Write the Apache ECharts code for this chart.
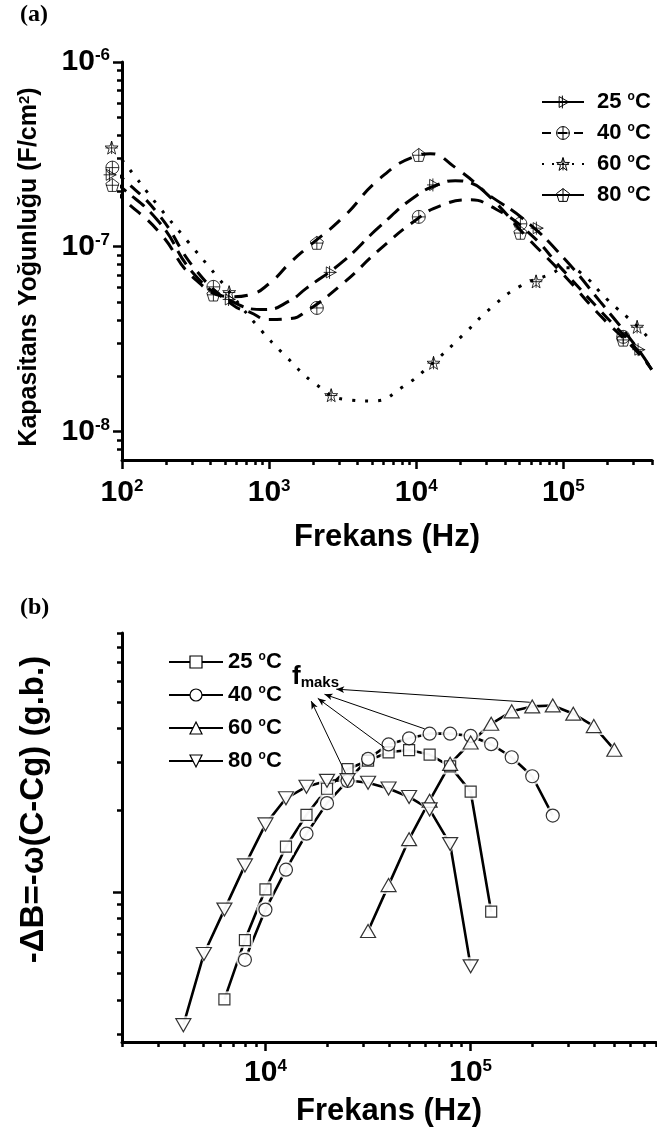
<!DOCTYPE html>
<html><head><meta charset="utf-8">
<script src="https://cdn.jsdelivr.net/npm/echarts@6/dist/echarts.min.js"></script>
<style>html,body{margin:0;padding:0;background:#fff}#c{width:657px;height:1128px}</style>
</head><body><div id="c"></div>
<script>
// ---------- (a) capacitance density: fitted curves ----------
const cap25Freq = [87,100,178,316,562,940,1390,1778,3162,5623,10000,14550,18400,23280,31620,56230,100000,177800,316200,398100];
const cap25Val  = [2.245e-7,2.085e-7,1.365e-7,6.97e-8,5.04e-8,4.565e-8,5.11e-8,5.93e-8,8.30e-8,1.283e-7,1.888e-7,2.19e-7,2.275e-7,2.22e-7,1.888e-7,1.365e-7,8.72e-8,5.04e-8,2.84e-8,2.16e-8];
const cap40Freq = [87,100,178,316,562,743,1000,1390,1778,3162,5623,10000,14550,23280,31620,56230,100000,177800,316200,398100];
const cap40Val  = [2.54e-7,2.36e-7,1.49e-7,7.51e-8,4.86e-8,4.41e-8,4.03e-8,4.08e-8,4.455e-8,6.31e-8,9.63e-8,1.40e-7,1.665e-7,1.795e-7,1.665e-7,1.22e-7,7.42e-8,4.51e-8,2.77e-8,2.16e-8];
const cap60Freq = [87,100,176,281,443,828,1324,2089,3289,5096,8166,13060,20560,32360,50250,80370,104800,130700,199100,318300,397300];
const cap60Val  = [3.34e-7,2.95e-7,1.665e-7,1.064e-7,6.89e-8,3.74e-8,2.51e-8,1.795e-8,1.49e-8,1.462e-8,1.75e-8,2.36e-8,3.30e-8,4.68e-8,6.08e-8,7.06e-8,7.70e-8,7.24e-8,5.17e-8,3.70e-8,3.07e-8];
const cap80Freq = [87,100,178,316,562,743,1000,1390,1778,3162,5623,10000,12450,17780,31620,56230,100000,177800,316200,398100];
const cap80Val  = [2.085e-7,1.84e-7,1.205e-7,6.63e-8,5.36e-8,5.5e-8,6.31e-8,8.19e-8,9.75e-8,1.435e-7,2.33e-7,3.10e-7,3.19e-7,2.74e-7,1.86e-7,1.13e-7,7.06e-8,4.24e-8,2.71e-8,2.16e-8];
// (a) measured markers
const mk25Freq = [83,535,2600,13100,66200,325000];
const mk25Val  = [2.45e-7,5.18e-8,7.26e-8,2.16e-7,1.26e-7,2.77e-8];
const mk40Freq = [86,418,2110,10400,51000,255000];
const mk40Val  = [2.68e-7,6.06e-8,4.66e-8,1.45e-7,1.33e-7,3.25e-8];
const mk60Freq = [85,535,2640,13100,65200,317000];
const mk60Val  = [3.44e-7,5.67e-8,1.57e-8,2.35e-8,6.49e-8,3.68e-8];
const mk80Freq = [86,418,2110,10400,51000,255000];
const mk80Val  = [2.16e-7,5.51e-8,1.05e-7,3.14e-7,1.19e-7,3.14e-8];
const topXMajor = [100,1000,10000,100000];
const topXMinor = [200,300,400,500,600,700,800,900,2000,3000,4000,5000,6000,7000,8000,9000,20000,30000,40000,50000,60000,70000,80000,90000,200000,300000,400000];
const topYMajor = [1e-8,1e-7,1e-6];
const topYMinor = [8e-9,9e-9,2e-8,3e-8,4e-8,5e-8,6e-8,7e-8,8e-8,9e-8,2e-7,3e-7,4e-7,5e-7,6e-7,7e-7,8e-7,9e-7];

// ---------- (b) -dB = -w(C-Cg) ----------
const b25Freq = [6310,7943,10000,12589,15849,19953,25119,31623,39811,50119,63096,79433,100000,125893];
const b25Val  = [0.402,0.665,1.023,1.468,1.925,2.401,2.834,3.05,3.27,3.333,3.208,2.902,2.342,0.846];
const b40Freq = [7943,10000,12589,15849,19953,25119,31623,39811,50119,63096,79433,100000,125893,158489,199526,251189];
const b40Val  = [0.5625,0.861,1.208,1.640,2.125,2.567,3.092,3.496,3.684,3.831,3.831,3.758,3.504,3.136,2.669,1.912];
const b60Freq = [31623,39811,50119,63096,79433,100000,125893,158489,199526,251189,316228,398107,501187];
const b60Val  = [0.718,1.060,1.565,2.169,2.966,3.554,4.165,4.630,4.828,4.868,4.539,4.086,3.344];
const b80Freq = [3981,5012,6310,7943,10000,12589,15849,19953,25119,31623,39811,50119,63096,79433,100000];
const b80Val  = [0.323,0.591,0.861,1.253,1.774,2.214,2.442,2.567,2.582,2.525,2.407,2.239,2.015,1.501,0.532];
const botXMajor = [10000,100000];
const botXMinor = [2000,3000,4000,5000,6000,7000,8000,9000,20000,30000,40000,50000,60000,70000,80000,90000,200000,300000,400000,500000,600000,700000,800000];
const botYMajor = [1];
const botYMinor = [0.3,0.4,0.5,0.6,0.7,0.8,0.9,2,3,4,5,6,7,8,9];
// f_maks arrows: from peak marker to label
const fmaxFrom = [[194100,5.0],[59700,3.99],[38000,3.41],[24550,2.74]];
const fmaxTo   = [[22130,5.59],[19400,5.35],[17990,5.17],[16710,5.05]];

const FONT = "'Liberation Sans Narrow','Arial Narrow','Liberation Sans',Arial,sans-serif";
function B(size, extra){ return Object.assign({fontSize:size,fontWeight:'bold',fontFamily:FONT,color:'#000'}, extra||{}); }
const zip = (a,b)=>a.map((v,i)=>[v,b[i]]);
const powRich = { b: B(30), s: B(17,{verticalAlign:'top'}) };
const powFmt = v => '{b|10}{s|' + Math.round(Math.log10(v)) + '}';

const SYM_TRI  = 'path://M0,10 L20,10 M9,0 L9,20 M4,1.5 L19,10 L4,18.5 Z';
const SYM_CIRC = 'path://M10,0 A10,10 0 1,1 9.99,0 Z M10,0 L10,20 M0,10 L20,10';
const SYM_STAR = 'path://M10,1 L12.35,7.76 L19.51,7.91 L13.8,12.24 L15.88,19.09 L10,15 L4.12,19.09 L6.2,12.24 L0.49,7.91 L7.65,7.76 Z M10,1 L10,19 M1,10.5 L19,10.5';
const SYM_PENT = 'path://M10,0.5 L19.51,7.41 L15.88,18.59 L4.12,18.59 L0.49,7.41 Z M10,0.5 L10,18.59 M0.49,10 L19.51,10';
const SYM_TUP  = 'path://M10,0 L20,17 L0,17 Z';
const SYM_TDN  = 'path://M0,0 L20,0 L10,17 Z';

const hollow = {color:'rgba(0,0,0,0)', borderColor:'#000', borderWidth:1};
const white  = {color:'#fff', borderColor:'#000', borderWidth:1.2};

const topDefs = [
  {n:'a25', cf:cap25Freq, cv:cap25Val, mf:mk25Freq, mv:mk25Val, sym:SYM_TRI,  dash:[16,8]},
  {n:'a40', cf:cap40Freq, cv:cap40Val, mf:mk40Freq, mv:mk40Val, sym:SYM_CIRC, dash:[13,9]},
  {n:'a60', cf:cap60Freq, cv:cap60Val, mf:mk60Freq, mv:mk60Val, sym:SYM_STAR, dash:[3,10]},
  {n:'a80', cf:cap80Freq, cv:cap80Val, mf:mk80Freq, mv:mk80Val, sym:SYM_PENT, dash:[14,10]}
];
const botDefs = [
  {n:'b25', f:b25Freq, v:b25Val, sym:'rect', size:[11,11], halo:[16,16]},
  {n:'b40', f:b40Freq, v:b40Val, sym:'circle', size:[13,13], halo:[18,18]},
  {n:'b60', f:b60Freq, v:b60Val, sym:SYM_TUP, size:[15,13], halo:[21,18]},
  {n:'b80', f:b80Freq, v:b80Val, sym:SYM_TDN, size:[15,13], halo:[21,18]}
];

const series = [];
topDefs.forEach(d=>{
  series.push({type:'line', name:d.n, xAxisIndex:0, yAxisIndex:0, data:zip(d.cf,d.cv), smooth:0.5,
    showSymbol:false, symbol:d.sym, symbolSize:13, itemStyle:hollow,
    lineStyle:{color:'#000', width:3, type:d.dash, cap:'butt'}, silent:true});
  series.push({type:'scatter', name:d.n, xAxisIndex:0, yAxisIndex:0, data:zip(d.mf,d.mv), clip:false,
    symbol:d.sym, symbolSize:13, itemStyle:hollow, z:3, silent:true});
});
botDefs.forEach((d,i)=>{
  const pts = zip(d.f,d.v);
  const s = {type:'line', name:d.n, xAxisIndex:2, yAxisIndex:2, data:pts, showSymbol:false,
    symbol:d.sym, symbolSize:d.size, itemStyle:white, lineStyle:{color:'#000', width:2.6}, z:2, silent:true};
  if (i===2) {
    s.markLine = {silent:true, symbol:['none','arrow'], symbolSize:[5,8], animation:false,
      lineStyle:{color:'#000', width:1, type:'solid'}, label:{show:false},
      data: fmaxFrom.map((p,k)=>[{coord:p},{coord:fmaxTo[k]}])};
  }
  series.push(s);
  // white gap around each marker (line stops short of the symbol)
  series.push({type:'scatter', name:d.n + '_gap', xAxisIndex:2, yAxisIndex:2, data:pts, symbol:d.sym,
    symbolSize:d.halo, itemStyle:{color:'#fff', borderWidth:0}, z:3, silent:true});
  series.push({type:'scatter', name:d.n + '_mk', xAxisIndex:2, yAxisIndex:2, data:pts, symbol:d.sym,
    symbolSize:d.size, itemStyle:white, z:4, silent:true});
});

const axisLine = {show:true, onZero:false, lineStyle:{color:'#000', width:3}};
const tickMajor = vals => ({show:true, inside:false, length:9, customValues:vals, lineStyle:{color:'#000', width:2.5}});
const tickMinor = vals => ({show:true, inside:false, length:5, customValues:vals, lineStyle:{color:'#000', width:2.5}});

const degRich = {p:{width:8}, t:B(22), o:B(12,{verticalAlign:'top'})};
const legendFmt = name => '{p|}{t|' + name.slice(1) + ' }{o|o}{t|C}';
const legHollow = {color:'rgba(0,0,0,0)', borderColor:'#000', borderWidth:1};
const legWhite = {color:'#fff', borderColor:'#000', borderWidth:1.2};

const option = {
  animation:false,
  backgroundColor:'#fff',
  grid:[{left:122, top:62, width:530, height:398}, {left:122, top:633, width:534, height:415}],
  xAxis:[
    {gridIndex:0, type:'log', position:'bottom', min:100, max:4e5, axisLine,
      axisTick:tickMajor(topXMajor), splitLine:{show:false},
      axisLabel:{customValues:topXMajor, formatter:powFmt, rich:powRich, margin:18},
      name:'Frekans (Hz)', nameLocation:'middle', nameGap:62, nameTextStyle:B(31)},
    {gridIndex:0, type:'log', position:'bottom', min:100, max:4e5, axisLine:{show:false, onZero:false},
      axisTick:tickMinor(topXMinor), axisLabel:{show:false}, splitLine:{show:false}},
    {gridIndex:1, type:'log', position:'bottom', min:2000, max:8e5, axisLine,
      axisTick:tickMajor(botXMajor), splitLine:{show:false},
      axisLabel:{customValues:botXMajor, formatter:powFmt, rich:powRich, margin:16},
      name:'Frekans (Hz)', nameLocation:'middle', nameGap:54, nameTextStyle:B(31)},
    {gridIndex:1, type:'log', position:'bottom', min:2000, max:8e5, axisLine:{show:false, onZero:false},
      axisTick:tickMinor(botXMinor), axisLabel:{show:false}, splitLine:{show:false}}
  ],
  yAxis:[
    {gridIndex:0, type:'log', position:'left', min:7e-9, max:1e-6, axisLine,
      axisTick:tickMajor(topYMajor), splitLine:{show:false},
      axisLabel:{customValues:topYMajor, formatter:powFmt, rich:powRich, margin:12},
      name:'{n|Kapasitans Yoğunluğu (F/cm}{s|2}{n|)}', nameLocation:'middle', nameGap:80,
      nameTextStyle:{padding:[0,12,0,0], rich:{n:B(25), s:B(15,{verticalAlign:'top'})}}},
    {gridIndex:0, type:'log', position:'left', min:7e-9, max:1e-6, axisLine:{show:false, onZero:false},
      axisTick:tickMinor(topYMinor), axisLabel:{show:false}, splitLine:{show:false}},
    {gridIndex:1, type:'log', position:'left', min:0.28, max:9, axisLine,
      axisTick:tickMajor(botYMajor), splitLine:{show:false}, axisLabel:{show:false},
      name:'-ΔB=-ω(C-Cg) (g.b.)', nameLocation:'middle', nameGap:72,
      nameTextStyle:B(33,{padding:[0,0,0,56]})},
    {gridIndex:1, type:'log', position:'left', min:0.28, max:9, axisLine:{show:false, onZero:false},
      axisTick:tickMinor(botYMinor), axisLabel:{show:false}, splitLine:{show:false}}
  ],
  legend:[
    {orient:'vertical', left:536, top:86, itemWidth:42, itemHeight:16, itemGap:9,
      data:[{name:'a25', lineStyle:{type:'solid'}, itemStyle:legHollow}, {name:'a40', lineStyle:{type:[9,7]}, itemStyle:legHollow},
            {name:'a60', lineStyle:{type:[2,8]}, itemStyle:legHollow}, {name:'a80', lineStyle:{type:'solid'}, itemStyle:legHollow}],
      formatter:legendFmt, textStyle:{rich:degRich}, selectedMode:false},
    {orient:'vertical', left:163, top:646, itemWidth:54, itemHeight:15, itemGap:11,
      data:['b25','b40','b60','b80'].map(n=>({name:n, itemStyle:legWhite})),
      formatter:name => '{t|' + name.slice(1) + ' }{o|o}{t|C}', textStyle:{rich:degRich},
      selectedMode:false}
  ],
  graphic:[
    {type:'text', left:20, top:3, style:{text:'(a)', fontSize:24, fontWeight:'bold', fontFamily:"'Liberation Serif','Times New Roman',serif", fill:'#000'}},
    {type:'text', left:20, top:596, style:{text:'(b)', fontSize:24, fontWeight:'bold', fontFamily:"'Liberation Serif','Times New Roman',serif", fill:'#000'}},
    {type:'text', left:292, top:664, z:10, style:{text:'{f|f}{m|maks}', rich:{f:{fontSize:26, fontWeight:'bold', fontFamily:FONT, fill:'#000'}, m:{fontSize:15, fontWeight:'bold', fontFamily:FONT, fill:'#000', verticalAlign:'bottom'}}}}
  ],
  series
};
const chart = echarts.init(document.getElementById('c'), null, {renderer:'canvas'});
chart.setOption(option);
</script>
</body></html>
